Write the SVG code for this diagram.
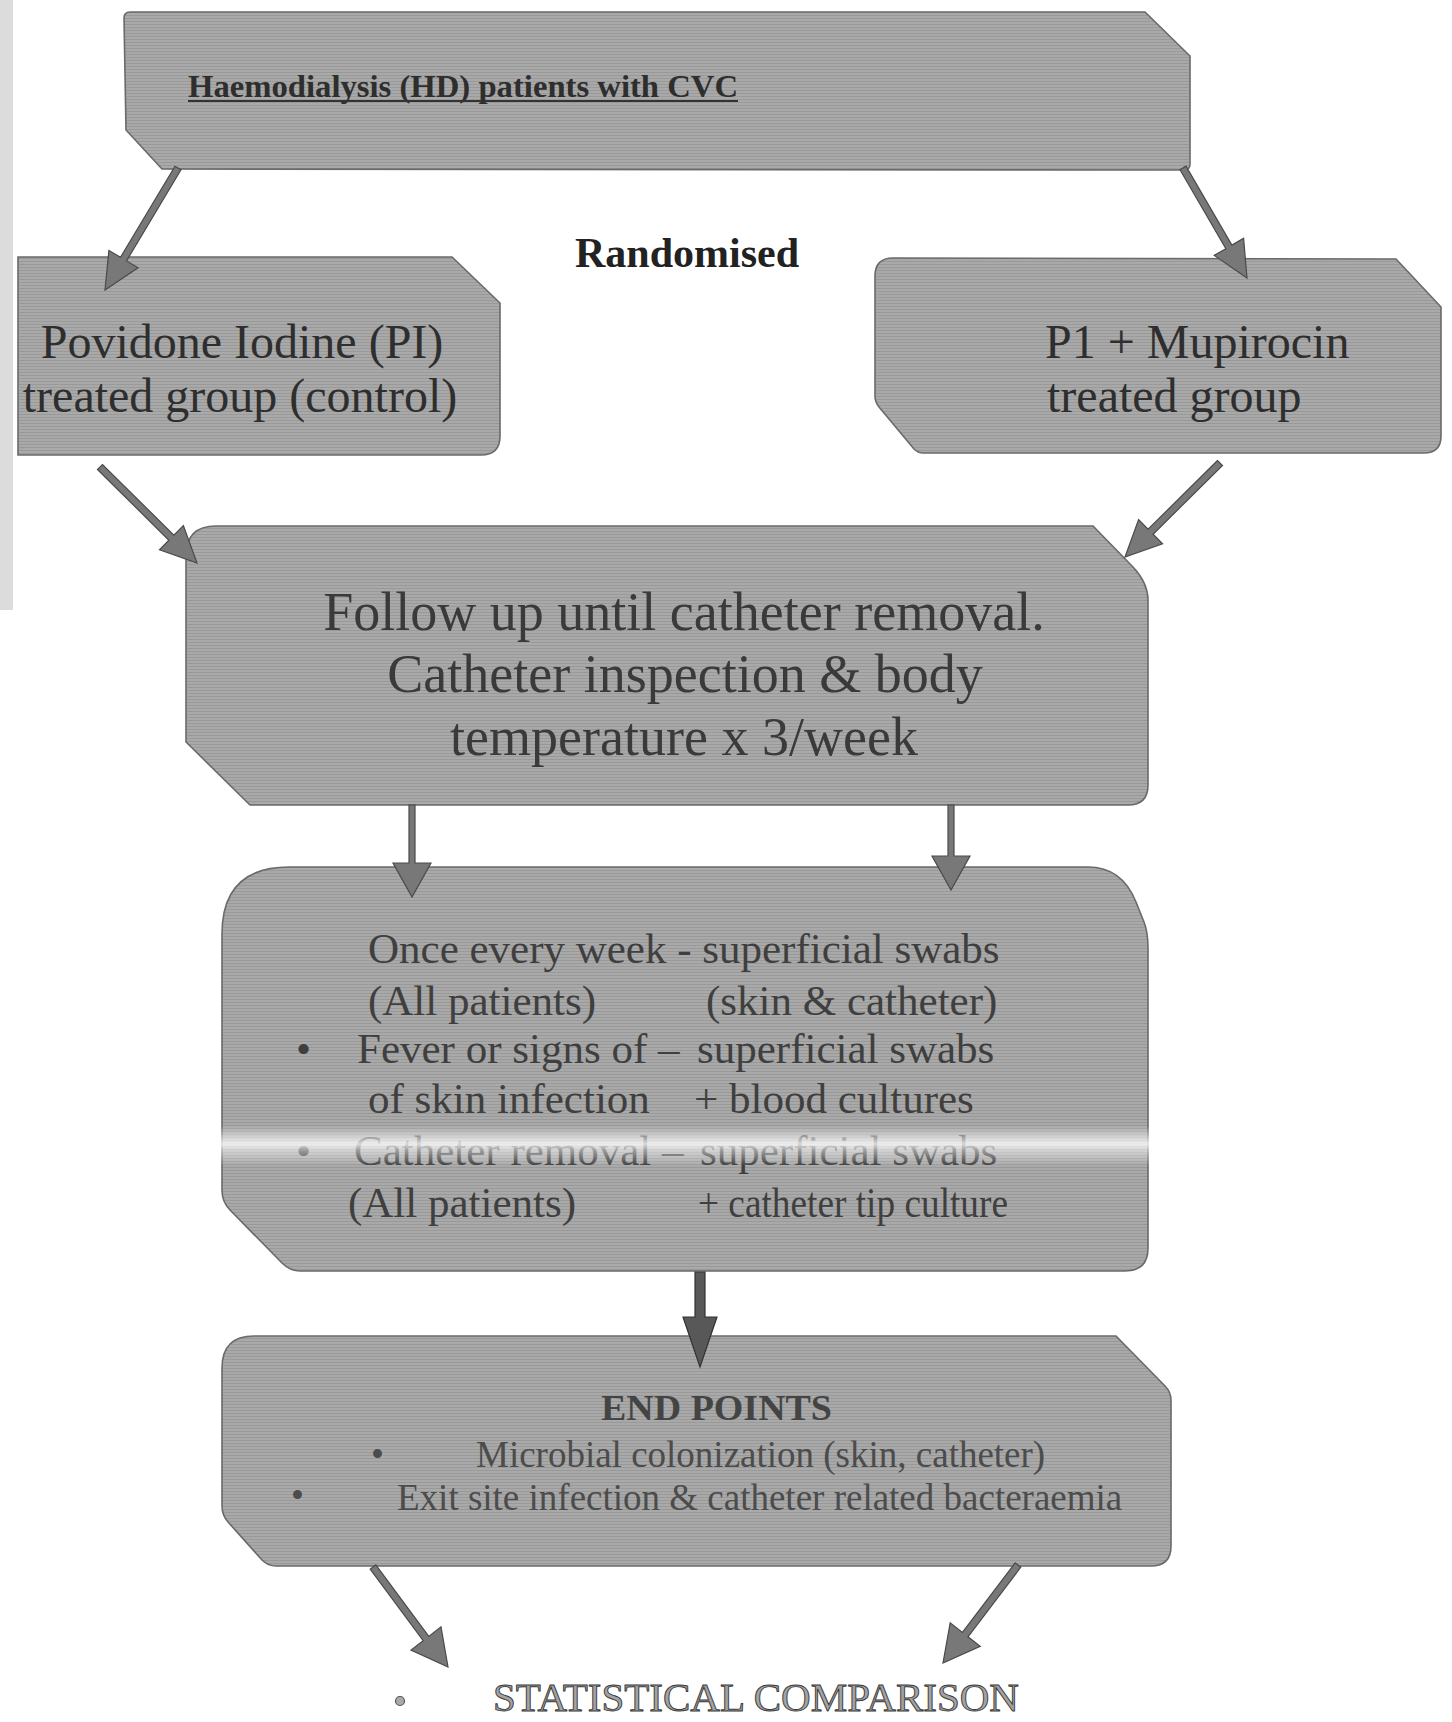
<svg xmlns="http://www.w3.org/2000/svg" width="1452" height="1722" viewBox="0 0 1452 1722">
<defs>
<pattern id="scan" width="6" height="3" patternUnits="userSpaceOnUse">
<rect width="6" height="3" fill="#a9a9a9"/>
<rect width="6" height="1" fill="#999999"/>
</pattern>
<linearGradient id="streak" x1="0" y1="0" x2="0" y2="1">
<stop offset="0" stop-color="#ffffff" stop-opacity="0"/>
<stop offset="0.45" stop-color="#ffffff" stop-opacity="0.8"/>
<stop offset="0.6" stop-color="#ffffff" stop-opacity="0.5"/>
<stop offset="1" stop-color="#ffffff" stop-opacity="0"/>
</linearGradient>
</defs>
<style>
.box{fill:url(#scan);stroke:#6a6a6a;stroke-width:1.6}
.serif{font-family:"Liberation Serif","Times New Roman",serif}
.big{font-size:48px;fill:#2e2e2e}
.fu{font-size:54px;fill:#3a3a3a}
.sw{font-size:43px;fill:#3f3f3f}
.ep{font-size:37px;fill:#4c4c4c}
.arrow{fill:#787878;stroke:#4a4a4a;stroke-width:1.2;stroke-linejoin:miter}
</style>
<rect width="1452" height="1722" fill="#ffffff"/>
<rect x="0" y="0" width="13" height="610" fill="#dcdcdc"/>

<g id="node-hd">
<path class="box" d="M 124,18 Q 124,12 130,12 L 1145,12 L 1190,56 L 1190,164 Q 1190,170 1184,170 L 162,169 L 126,130 Z"/>
<text class="serif" x="188" y="97" font-size="32" font-weight="bold" fill="#2e2e2e" textLength="550" lengthAdjust="spacingAndGlyphs">Haemodialysis (HD) patients with CVC</text>
<rect x="188" y="100" width="550" height="2" fill="#333"/>
</g>

<g id="label-randomised">
<text class="serif" x="575" y="267" font-size="42" font-weight="bold" fill="#222">Randomised</text>
</g>

<g id="node-pi">
<path class="box" d="M 18,257 L 452,257 L 500,303 L 500,436 Q 500,455 481,455 L 18,455 Z"/>
<text class="serif big" x="242" y="358" text-anchor="middle">Povidone Iodine (PI)</text>
<text class="serif big" x="240" y="412" text-anchor="middle">treated group (control)</text>
</g>

<g id="node-mupirocin">
<path class="box" d="M 875,276 Q 875,258 893,258 L 1396,259 L 1441,307 L 1441,436 Q 1441,453 1424,453 L 923,453 Q 918,453 914,449 L 879,407 Q 875,402 875,396 Z"/>
<text class="serif big" x="1045" y="358">P1 + Mupirocin</text>
<text class="serif big" x="1047" y="412">treated group</text>
</g>

<g id="node-followup">
<path class="box" d="M 186,556 Q 186,526 216,526 L 1093,526 L 1133,567 Q 1148,583 1148,600 L 1148,785 Q 1148,805 1128,805 L 250,805 L 186,742 Z"/>
<text class="serif fu" x="684" y="630" text-anchor="middle">Follow up until catheter removal.</text>
<text class="serif fu" x="685" y="692" text-anchor="middle">Catheter inspection &amp; body</text>
<text class="serif fu" x="684" y="755" text-anchor="middle">temperature x 3/week</text>
</g>

<g id="node-swabs">
<path class="box" d="M 222,934 Q 222,867 289,867 L 1088,867 Q 1122,867 1136,902 L 1144,922 Q 1148,932 1148,948 L 1148,1248 Q 1148,1271 1125,1271 L 300,1271 Q 290,1271 282,1263 L 230,1210 Q 222,1202 222,1190 Z"/>
<text class="serif sw" x="368" y="963">Once every week - superficial swabs</text>
<text class="serif sw" x="368" y="1015">(All patients)</text>
<text class="serif sw" x="706" y="1015">(skin &amp; catheter)</text>
<text class="serif sw" x="296" y="1063" font-size="34">•</text>
<text class="serif sw" x="357" y="1063">Fever or signs of –</text>
<text class="serif sw" x="697" y="1063">superficial swabs</text>
<text class="serif sw" x="368" y="1113">of skin infection</text>
<text class="serif sw" x="694" y="1113">+ blood cultures</text>
<text class="serif sw" x="296" y="1165" font-size="34" fill="#6a6a6a">•</text>
<text class="serif sw" x="354" y="1165" fill="#6a6a6a">Catheter removal –</text>
<text class="serif sw" x="700" y="1165" fill="#6a6a6a">superficial swabs</text>
<text class="serif sw" x="348" y="1217" font-size="41">(All patients)</text>
<text class="serif sw" x="698" y="1217" font-size="40" textLength="310" lengthAdjust="spacingAndGlyphs">+ catheter tip culture</text>
<rect x="208" y="1126" width="944" height="40" fill="url(#streak)"/>
</g>

<g id="node-endpoints">
<path class="box" d="M 222,1368 Q 222,1336 254,1336 L 1116,1336 L 1165,1386 Q 1171,1392 1171,1400 L 1171,1546 Q 1171,1566 1151,1566 L 276,1566 Q 268,1566 262,1560 L 228,1522 Q 222,1515 222,1506 Z"/>
<text class="serif" x="601" y="1420" font-size="35" font-weight="bold" fill="#444" textLength="231" lengthAdjust="spacingAndGlyphs">END POINTS</text>
<text class="serif ep" x="371" y="1467" font-size="28">•</text>
<text class="serif ep" x="476" y="1467">Microbial colonization (skin, catheter)</text>
<text class="serif ep" x="291" y="1508" font-size="28">•</text>
<text class="serif ep" x="397" y="1510">Exit site infection &amp; catheter related bacteraemia</text>
</g>

<g id="node-statistical">
<circle cx="400" cy="1701" r="4.5" fill="#aaaaaa" stroke="#555" stroke-width="1.2"/>
<text class="serif" x="493" y="1711" font-size="39" fill="#a3a3a3" stroke="#3a3a3a" stroke-width="0.9" textLength="526" lengthAdjust="spacingAndGlyphs">STATISTICAL COMPARISON</text>
</g>

<g id="connectors">
<polygon class="arrow" points="175.0,166.2 120.5,257.3 108.9,250.4 105,290 138.1,267.8 126.5,260.9 181.0,169.8"/>
<polygon class="arrow" points="1180.0,169.8 1225.9,248.7 1214.2,255.4 1247,278 1243.6,238.3 1231.9,245.1 1186.0,166.2"/>
<polygon class="arrow" points="97.5,469.5 168.9,540.2 159.5,549.8 197,563 183.4,525.6 173.9,535.2 102.5,464.5"/>
<polygon class="arrow" points="1217.5,460.5 1148.1,529.2 1138.6,519.6 1125,557 1162.6,543.8 1153.1,534.2 1222.5,465.5"/>
<polygon class="arrow" points="409,805 409,863 393,863 412,897 431,863 415,863 415,805"/>
<polygon class="arrow" points="948,805 948,856 932,856 951,890 970,856 954,856 954,805"/>
<polygon class="arrow" points="695,1272 695,1317 683,1317 700,1367 717,1317 705,1317 705,1272" style="fill:#585858;stroke:#333"/>
<polygon class="arrow" points="370.2,1569.1 423.2,1640.6 411.0,1650.1 448,1667 441.0,1626.9 428.8,1636.4 375.8,1564.9"/>
<polygon class="arrow" points="1015.2,1562.8 962.4,1632.4 950.2,1622.9 943,1663 980.2,1646.3 968.0,1636.8 1020.8,1567.2"/>
</g>
</svg>
